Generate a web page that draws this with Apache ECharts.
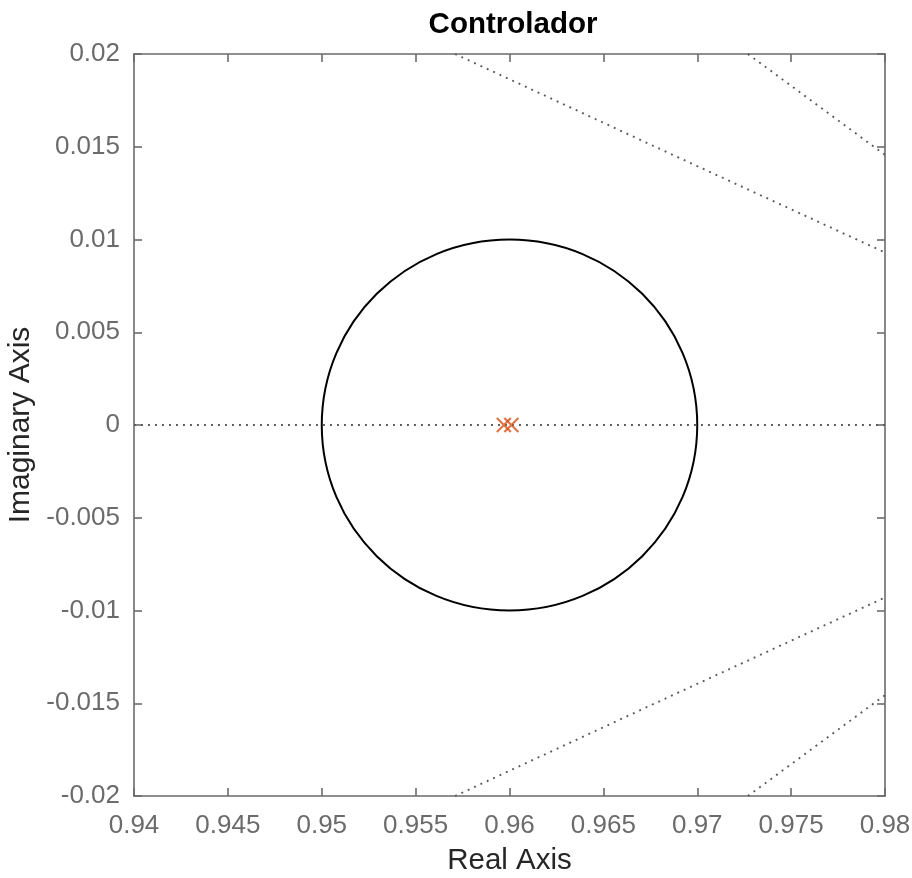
<!DOCTYPE html>
<html>
<head>
<meta charset="utf-8">
<script src="https://cdn.jsdelivr.net/npm/echarts@6/dist/echarts.min.js"></script>
<style>
  html, body { margin: 0; padding: 0; background: #fff; }
  #chart { width: 912px; height: 878px; }
</style>
</head>
<body>
<div id="chart"></div>
<script>
// Axis limits and tick spacing
const xRange = [0.94, 0.98];
const yRange = [-0.02, 0.02];
const tickStep = 0.005;

// Controller poles (real, imaginary)
const poles = [[0.9597, 0], [0.9601, 0]];

// Reference circle: centre (real, imag) and radius
const circleCenter = [0.96, 0];
const circleRadius = 0.01;

// z-plane grid curves (damping lines) crossing the view
const gridRealAxis = [[0.94, 0], [0.98, 0]];
const gridUpperInner = [[0.9571, 0.02], [0.9684, 0.0147], [0.98, 0.0093]];
const gridUpperOuter = [[0.9727, 0.02], [0.98, 0.01456]];
const gridLowerInner = [[0.9571, -0.02], [0.9684, -0.0147], [0.98, -0.0093]];
const gridLowerOuter = [[0.9727, -0.02], [0.98, -0.01456]];

const axisGray = '#6b6b6b';
const font = 'Liberation Sans, Arial, sans-serif';
const fmt = v => String(+v.toFixed(3));

function boxAxis(pos, range, showLabels, margin) {
  return {
    type: 'value',
    position: pos,
    min: range[0],
    max: range[1],
    interval: tickStep,
    axisLine: { show: true, onZero: false, lineStyle: { color: axisGray, width: 1.6 } },
    axisTick: { show: true, inside: true, length: 8, lineStyle: { color: axisGray, width: 1.6 } },
    splitLine: { show: false },
    axisLabel: {
      show: showLabels,
      color: axisGray,
      fontFamily: font,
      fontSize: 26,
      margin: margin,
      formatter: fmt
    }
  };
}

const dotted = { color: '#5a5a5a', width: 1.9, type: [1.9, 5.1] };
function gridCurve(data) {
  return {
    type: 'line', data: data, symbol: 'none', silent: true,
    lineStyle: dotted, z: 1, animation: false
  };
}

const chart = echarts.init(document.getElementById('chart'), null, { renderer: 'canvas' });
chart.setOption({
  animation: false,
  backgroundColor: '#fff',
  title: {
    text: 'Controlador',
    left: 508, top: 5, textAlign: 'center',
    textStyle: { fontFamily: font, fontWeight: 'bold', fontSize: 29.5, color: '#000' }
  },
  grid: {
    left: 134, right: 27, top: 54, bottom: 82,
    containLabel: false, outerBoundsMode: 'none'
  },
  xAxis: [
    Object.assign(boxAxis('bottom', xRange, true, 17), {
      name: 'Real Axis', nameLocation: 'middle', nameGap: 50,
      nameTextStyle: { fontFamily: font, fontSize: 29.5, color: '#262626' }
    }),
    boxAxis('top', xRange, false, 12)
  ],
  yAxis: [
    Object.assign(boxAxis('left', yRange, true, 14), {
      name: 'Imaginary Axis', nameLocation: 'middle', nameGap: 89, nameRotate: 90,
      nameTextStyle: { fontFamily: font, fontSize: 30, color: '#262626' }
    }),
    boxAxis('right', yRange, false, 12)
  ],
  series: [
    gridCurve(gridRealAxis),
    gridCurve(gridUpperInner),
    gridCurve(gridUpperOuter),
    gridCurve(gridLowerInner),
    gridCurve(gridLowerOuter),
    {
      type: 'custom',
      z: 2,
      silent: true,
      clip: true,
      data: [[circleCenter[0], circleCenter[1], circleRadius]],
      encode: { x: 0, y: 1 },
      renderItem: function (params, api) {
        const c = api.coord([api.value(0), api.value(1)]);
        const s = api.size([api.value(2), api.value(2)]);
        return {
          type: 'ellipse',
          shape: { cx: c[0], cy: c[1], rx: s[0], ry: s[1] },
          style: { fill: null, stroke: '#000', lineWidth: 2 }
        };
      }
    },
    {
      type: 'scatter',
      z: 3,
      data: poles,
      symbol: 'path://M0,0L10,10M10,0L0,10',
      symbolSize: 14,
      itemStyle: { color: 'none', borderColor: '#D95319', borderWidth: 2.2 },
      silent: true
    }
  ]
});
</script>
</body>
</html>
